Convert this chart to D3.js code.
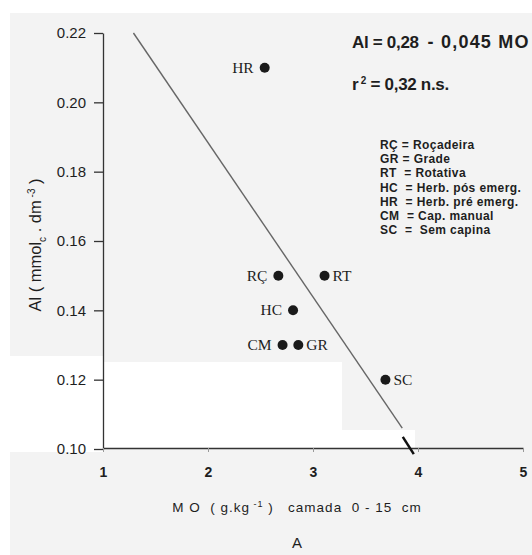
<!DOCTYPE html>
<html>
<head>
<meta charset="utf-8">
<script src="https://cdn.jsdelivr.net/npm/d3@7"></script>
<style>
  body { margin: 0; background: #fff; }
  svg { display: block; }
  text { font-family: "Liberation Sans", Arial, sans-serif; fill: #1e1e1e; white-space: pre; }
  .serif { font-family: "Liberation Serif", "Times New Roman", serif; }
</style>
</head>
<body>
<div id="chart"></div>
<script>
// Data
const codes = ["HR", "RÇ", "RT", "HC", "CM", "GR", "SC"];
const moValues = [2.54, 2.67, 3.11, 2.81, 2.71, 2.86, 3.69];
const alValues = [0.21, 0.15, 0.15, 0.14, 0.13, 0.13, 0.12];
const labelSide = ["left", "left", "right", "left", "left", "right", "right"];

// Fitted line as drawn (Al = 0,28 - 0,045 MO)
const lineMO = [1.29, 3.85];
const lineAl = [0.22, 0.106];
// short dark stroke of the line below the cut
const tailMO = [3.855, 3.96];
const tailAl = [0.1035, 0.0985];

const xTicks = [1, 2, 3, 4, 5];
const yTicks = [0.10, 0.12, 0.14, 0.16, 0.18, 0.20, 0.22];

const legendLines = [
  "RÇ = Roçadeira",
  "GR = Grade",
  "RT  = Rotativa",
  "HC  = Herb. pós emerg.",
  "HR  = Herb. pré emerg.",
  "CM  = Cap. manual",
  "SC  =  Sem capina"
];

const data = codes.map((c, i) => ({code: c, mo: moValues[i], al: alValues[i], side: labelSide[i]}));

const width = 532;
const height = 555;
const gray = "#f3f3f3";

const svg = d3.select("#chart")
  .append("svg")
    .attr("width", width)
    .attr("height", height);

/*******************************/
/*   Scanned page background   */
/*******************************/
svg.append("rect").attr("x", 10).attr("y", 13).attr("width", width - 10).attr("height", height - 13).attr("fill", gray);
svg.append("rect").attr("x", 0).attr("y", 356).attr("width", 104).attr("height", 96).attr("fill", "#fff");
svg.append("rect").attr("x", 104).attr("y", 362).attr("width", 238).attr("height", 86).attr("fill", "#fff");
svg.append("rect").attr("x", 342).attr("y", 430).attr("width", 73).attr("height", 18).attr("fill", "#fff");

/****************************/
/*    Declare the scales    */
/****************************/
const xScale = d3.scaleLinear().domain([1, 5]).range([103, 523]);
const yScale = d3.scaleLinear().domain([0.10, 0.22]).range([449, 33]);

/***************************/
/*     Append the axes     */
/***************************/
const leftAxis = d3.axisLeft(yScale)
  .tickValues(yTicks)
  .tickFormat(d3.format(".2f"))
  .tickSize(9)
  .tickSizeOuter(0)
  .tickPadding(8);
const gy = svg.append("g")
  .attr("transform", `translate(${xScale(1)}, 0)`)
  .call(leftAxis);
gy.select(".domain").attr("stroke", "#333").attr("stroke-width", 1.3);
gy.selectAll(".tick line").attr("stroke", "#333").attr("stroke-width", 1.3);
gy.selectAll(".tick text")
  .attr("font-size", 15)
  .attr("fill", "#1e1e1e")
  .style("font-family", "'Liberation Sans', Arial, sans-serif");

const bottomAxis = d3.axisBottom(xScale)
  .tickValues(xTicks)
  .tickFormat(d3.format("d"))
  .tickSize(4)
  .tickSizeOuter(0)
  .tickPadding(15);
const gx = svg.append("g")
  .attr("transform", `translate(0, ${yScale(0.10) - 1})`)
  .call(bottomAxis);
gx.select(".domain").attr("stroke", "#333").attr("stroke-width", 1.5);
gx.selectAll(".tick line").attr("stroke", "#999");
gx.selectAll(".tick text")
  .attr("font-size", 14)
  .attr("font-weight", "bold")
  .attr("fill", "#222")
  .style("font-family", "'Liberation Sans', Arial, sans-serif");

/***************************/
/*     Regression line     */
/***************************/
const lineGen = d3.line()
  .x(d => xScale(d[0]))
  .y(d => yScale(d[1]));

svg.append("path")
  .attr("d", lineGen(d3.zip(lineMO, lineAl)))
  .attr("fill", "none")
  .attr("stroke", "#666")
  .attr("stroke-width", 1.4);

svg.append("path")
  .attr("d", lineGen(d3.zip(tailMO, tailAl)))
  .attr("fill", "none")
  .attr("stroke", "#111")
  .attr("stroke-width", 2.5);

/***************************/
/*       Data points       */
/***************************/
svg.selectAll("circle.pt")
  .data(data)
  .join("circle")
    .attr("class", "pt")
    .attr("cx", d => xScale(d.mo))
    .attr("cy", d => yScale(d.al))
    .attr("r", 5)
    .attr("fill", "#1a1a1a");

svg.selectAll("text.pt-label")
  .data(data)
  .join("text")
    .attr("class", "pt-label serif")
    .attr("x", d => xScale(d.mo) + (d.side === "left" ? -11 : 8))
    .attr("y", d => yScale(d.al) + 5)
    .attr("text-anchor", d => d.side === "left" ? "end" : "start")
    .attr("font-size", 15.5)
    .attr("fill", "#333")
    .text(d => d.code);

/************************/
/*      Add labels      */
/************************/
const eq = svg.append("text")
  .attr("x", 352)
  .attr("y", 48)
  .attr("font-size", 17)
  .attr("font-weight", "bold")
  .attr("letter-spacing", -0.3)
  .attr("fill", "#222");
eq.append("tspan").text("Al = 0,28  ");
eq.append("tspan").attr("letter-spacing", 1.2).attr("font-size", 18).text("- 0,045 MO");

const r2 = svg.append("text")
  .attr("x", 352)
  .attr("y", 90)
  .attr("font-size", 17)
  .attr("font-weight", "bold")
  .attr("letter-spacing", -0.3)
  .attr("fill", "#222");
r2.append("tspan").text("r");
r2.append("tspan").attr("dy", -6).attr("font-size", 10).text(" 2");
r2.append("tspan").attr("dy", 6).text(" = 0,32 n.s.");

svg.append("g")
  .selectAll("text")
  .data(legendLines)
  .join("text")
    .attr("x", 380)
    .attr("y", (d, i) => 149 + i * 14.2)
    .attr("font-size", 12)
    .attr("font-weight", "bold")
    .attr("letter-spacing", 0.4)
    .attr("fill", "#2a2a2a")
    .text(d => d);

// Y axis title
const yTitle = svg.append("text")
  .attr("transform", "translate(41, 245) rotate(-90)")
  .attr("text-anchor", "middle")
  .attr("font-size", 16.5)
  .attr("fill", "#222");
yTitle.append("tspan").text("Al ( mmol");
yTitle.append("tspan").attr("dy", 5).attr("font-size", 10).text("c");
yTitle.append("tspan").attr("dy", -5).text(" . dm");
yTitle.append("tspan").attr("dy", -6).attr("font-size", 10).text(" -3");
yTitle.append("tspan").attr("dy", 6).text(" )");

// X axis title
const xTitle = svg.append("text")
  .attr("x", 297)
  .attr("y", 512)
  .attr("text-anchor", "middle")
  .attr("font-size", 13.5)
  .attr("letter-spacing", 1)
  .attr("fill", "#222");
xTitle.append("tspan").text("M O  ( g.kg");
xTitle.append("tspan").attr("dy", -5).attr("font-size", 9).text(" -1");
xTitle.append("tspan").attr("dy", 5).text(" )   camada  0 - 15  cm");

svg.append("text")
  .attr("x", 297)
  .attr("y", 548)
  .attr("text-anchor", "middle")
  .attr("font-size", 15)
  .attr("fill", "#222")
  .text("A");
</script>
</body>
</html>
